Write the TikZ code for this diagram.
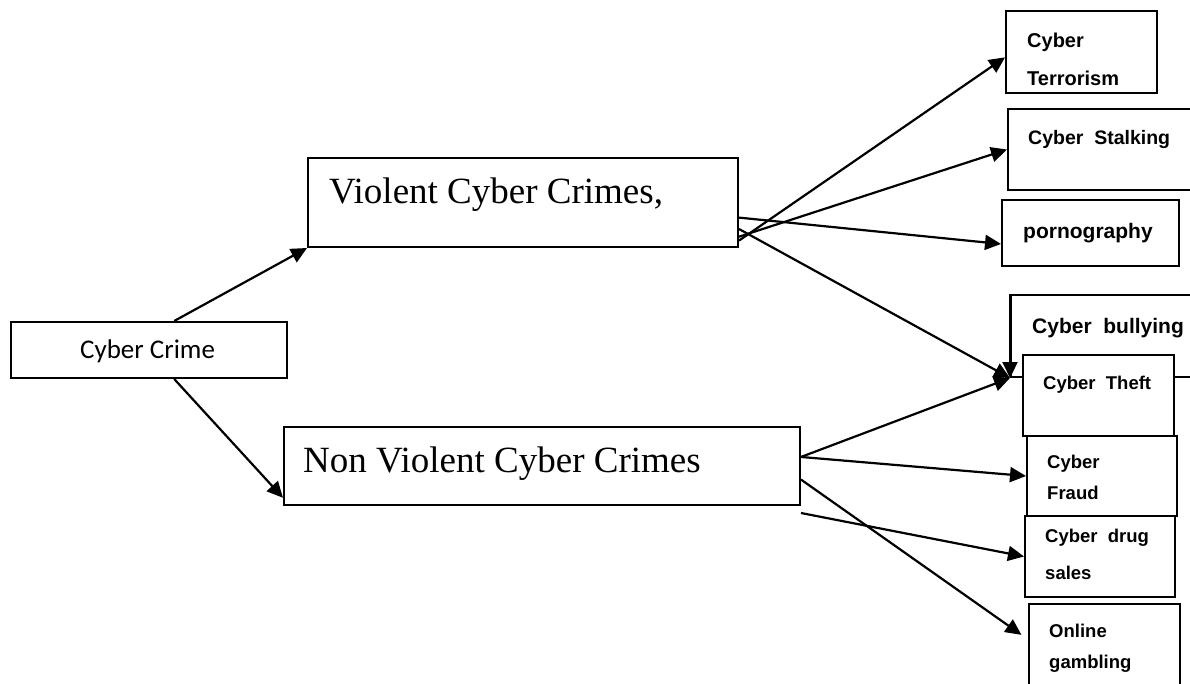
\documentclass[tikz,border=0pt]{standalone}
\usepackage{fontspec}
\setmainfont{Liberation Serif}
\setsansfont{Liberation Sans}
\newfontfamily\calibri{Carlito}
\usetikzlibrary{arrows.meta}

\begin{document}
\begin{tikzpicture}[x=1pt,y=-1pt,
	box/.style={draw,line width=2pt,fill=white,anchor=north west,inner sep=0pt},
	boxtext/.style={anchor=base west,inner sep=0pt,align=left},
	smalltext/.style={boxtext,font=\sffamily\bfseries\fontsize{#1}{31pt}\selectfont},
	smalltext/.default=18.5pt,
	conn/.style={line width=2.2pt,-{Triangle[length=16pt,width=15pt]}}]
				\useasboundingbox (0,0) rectangle (1190,683);
				\clip (0,0) rectangle (1190,683);
				
				% draw the main boxes
				\node[box,minimum width=276pt,minimum height=56pt] (crime) at (10,321) {};
				\node[box,minimum width=430pt,minimum height=89pt] (violent) at (307,157) {};
				\node[box,minimum width=516pt,minimum height=78pt] (nonviolent) at (283,426) {};
				
				% draw the boxes on the right
				\node[box,minimum width=151pt,minimum height=82pt] (terror) at (1005,10) {};
				\node[box,minimum width=200pt,minimum height=81pt] (stalk) at (1007,108) {};
				\node[box,minimum width=177pt,minimum height=66pt] (porn) at (1001,199) {};
				\node[box,minimum width=195pt,minimum height=82pt] (bully) at (1010,294) {};
				\node[box,minimum width=151pt,minimum height=81pt] (theft) at (1022,354) {};
				\node[box,minimum width=150pt,minimum height=80pt] (fraud) at (1026,435) {};
				\node[box,minimum width=150pt,minimum height=81pt] (drug) at (1024,515) {};
				\node[box,minimum width=151pt,minimum height=87pt] (gamble) at (1028,603) {};
				
				% write the texts (base is the last line)
				\node[boxtext,font=\calibri\fontsize{27pt}{32pt}\selectfont] (crimetext) at (80,358) {Cyber Crime};
				\node[boxtext,font=\fontsize{37pt}{44pt}\selectfont] (violenttext) at (329,203) {Violent Cyber Crimes,};
				\node[boxtext,font=\fontsize{37pt}{44pt}\selectfont] (nonviolenttext) at (303,472) {Non Violent Cyber Crimes};
				\node[smalltext=20pt] (terrortext) at (1027,85) {Cyber\\[7pt]Terrorism};
				\node[smalltext=19.5pt] (stalktext) at (1028,144) {Cyber\ \ Stalking};
				\node[smalltext=21pt] (porntext) at (1023,238) {pornography};
				\node[smalltext=21pt] (bullytext) at (1032,333) {Cyber\ \ bullying};
				\node[smalltext] (thefttext) at (1043,389) {Cyber\ \ Theft};
				\node[smalltext] (fraudtext) at (1047,499) {Cyber\\Fraud};
				\node[smalltext] (drugtext) at (1045,579) {Cyber\ \ drug\\[6pt]sales};
				\node[smalltext] (gambletext) at (1049,668) {Online\\gambling};
				
				% draw arrows from cyber crime
				\draw[conn] (crime.49) -- (violent.south west);
				\draw[conn] (crime.-49) -- (nonviolent.187);
				
				% draw arrows from violent cyber crimes
				\foreach \a/\b in {-10.5/terror.184, -9.5/stalk.west, -4/porn.187, -7/bully.south west}
				\draw[conn] (violent.\a) -- (\b);
				\draw[conn] (bully.north west) -- (bully.south west);
				
				% draw arrows from non violent cyber crimes
				\draw[conn] (nonviolent.2) -- (bully.south west);
				\draw[conn] (nonviolent.2) -- (fraud.west);
				\draw[conn] ([yshift=-7pt]nonviolent.south east) -- (drug.west);
				\draw[conn,shorten >=8pt] (nonviolent.-3.5) -- (gamble.174);
			\end{tikzpicture}
\end{document}
